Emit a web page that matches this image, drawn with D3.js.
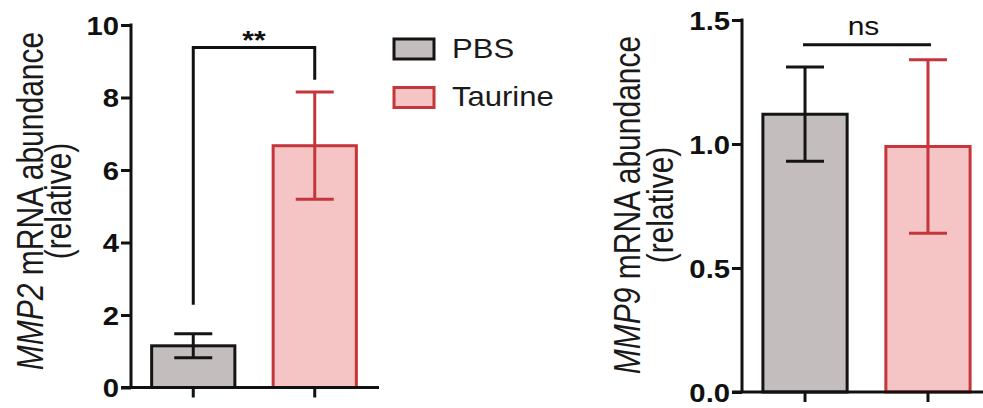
<!DOCTYPE html>
<html>
<head>
<meta charset="utf-8">
<script src="https://cdn.jsdelivr.net/npm/d3@7"></script>
<style>
  body { margin: 0; background: #fff; }
  svg { display: block; font-family: "Liberation Sans", Arial, sans-serif; }
</style>
</head>
<body>
<div class="chart"></div>
<script>
// groups and values (mean and SD)
const groups = ["PBS", "Taurine"];
const mmp2Mean = [1.15, 6.67];
const mmp2Err = [0.33, 1.48];
const mmp9Mean = [1.12, 0.99];
const mmp9Err = [0.19, 0.35];
const mmp2Ticks = [0, 2, 4, 6, 8, 10];
const mmp9Ticks = [0, 0.5, 1.0, 1.5];
const fills = ["#c4bdbd", "#f5c4c4"];
const strokes = ["#141414", "#c6353b"];

const W = 983, H = 408;
const sx = 1.2; // the figure is stretched a bit horizontally
const tickSx = 1.17;

const svg = d3.select(".chart").append("svg")
  .attr("width", W).attr("height", H);

function panel(opt) {
  const x = d3.scaleBand().domain(groups)
    .range(opt.xr).paddingInner(0.315).paddingOuter(0.17);
  const y = d3.scaleLinear().domain(opt.domain).range(opt.yr);
  const g = svg.append("g");

  // bars
  g.selectAll(".bar").data(groups).enter().append("rect")
    .attr("class", "bar")
    .attr("x", d => x(d))
    .attr("y", (d, i) => y(opt.mean[i]))
    .attr("width", x.bandwidth())
    .attr("height", (d, i) => y(0) - y(opt.mean[i]))
    .attr("fill", (d, i) => fills[i])
    .attr("stroke", (d, i) => strokes[i])
    .attr("stroke-width", 3);

  // error bars
  const cap = 19;
  groups.forEach((d, i) => {
    const cx = x(d) + x.bandwidth() / 2;
    const lo = y(opt.mean[i] - opt.err[i]), hi = y(opt.mean[i] + opt.err[i]);
    const eg = g.append("g").attr("stroke", strokes[i]).attr("stroke-width", 3);
    eg.append("line").attr("x1", cx).attr("x2", cx).attr("y1", lo).attr("y2", hi);
    eg.append("line").attr("x1", cx - cap).attr("x2", cx + cap).attr("y1", lo).attr("y2", lo);
    eg.append("line").attr("x1", cx - cap).attr("x2", cx + cap).attr("y1", hi).attr("y2", hi);
  });

  // y axis
  const ya = g.append("g").attr("transform", `translate(${opt.xr[0]},0)`)
    .call(d3.axisLeft(y).tickValues(opt.ticks).tickFormat(opt.fmt)
      .tickSize(10).tickSizeOuter(0));
  ya.select(".domain").attr("stroke", "#111").attr("stroke-width", 3)
    .attr("d", `M0,${opt.yr[1] - 1.5}V${opt.yr[0]}`);
  ya.selectAll(".tick line").attr("stroke", "#111").attr("stroke-width", 3);
  ya.selectAll(".tick text")
    .attr("x", -12 / tickSx).attr("dy", "0.36em")
    .attr("transform", `scale(${tickSx},1)`)
    .attr("font-size", 25).attr("font-weight", "bold").attr("fill", "#111")
    .attr("font-family", "Liberation Sans, Arial, sans-serif");

  // x axis
  const xa = g.append("g").attr("transform", `translate(0,${opt.yr[0]})`)
    .call(d3.axisBottom(x).tickSize(10).tickSizeOuter(0).tickFormat(""));
  xa.select(".domain").attr("stroke", "#111").attr("stroke-width", 3)
    .attr("d", `M${opt.xr[0] - 10},0H${opt.xEnd}`);
  xa.selectAll(".tick line").attr("stroke", "#111").attr("stroke-width", 3);

  // y label, two lines
  const l1 = svg.append("text")
    .attr("transform", `translate(${opt.labelX[0]},${opt.labelY}) scale(${sx},1) rotate(-90)`)
    .attr("text-anchor", "middle").attr("font-size", 30).attr("fill", "#1a1a1a");
  l1.append("tspan").attr("font-style", "italic").text(opt.gene);
  l1.append("tspan").text(" mRNA abundance");
  svg.append("text")
    .attr("transform", `translate(${opt.labelX[1]},${opt.labelY}) scale(${sx},1) rotate(-90)`)
    .attr("text-anchor", "middle").attr("font-size", 30).attr("fill", "#1a1a1a")
    .text("(relative)");

  return { x, y };
}

const left = panel({
  xr: [131, 377], xEnd: 379, yr: [387.5, 25], domain: [0, 10],
  mean: mmp2Mean, err: mmp2Err, ticks: mmp2Ticks, fmt: d3.format("d"),
  gene: "MMP2", labelX: [43, 71], labelY: 201
});

const right = panel({
  xr: [742, 991], xEnd: 983, yr: [392, 20], domain: [0, 1.5],
  mean: mmp9Mean, err: mmp9Err, ticks: mmp9Ticks, fmt: d3.format(".1f"),
  gene: "MMP9", labelX: [640, 673], labelY: 205
});

// significance bracket on MMP2
const c0 = left.x("PBS") + left.x.bandwidth() / 2;
const c1 = left.x("Taurine") + left.x.bandwidth() / 2;
svg.append("path")
  .attr("d", `M${c0},${left.y(2.28)}V${left.y(9.38)}H${c1}V${left.y(8.49)}`)
  .attr("fill", "none").attr("stroke", "#111").attr("stroke-width", 3);
svg.append("text")
  .attr("transform", `translate(${(c0 + c1) / 2},${left.y(9.38) + 2}) scale(${sx},1)`)
  .attr("text-anchor", "middle").attr("font-size", 25).attr("font-weight", "bold")
  .attr("fill", "#111").text("**");

// ns line on MMP9
const r0 = right.x("PBS") + right.x.bandwidth() / 2;
const r1 = right.x("Taurine") + right.x.bandwidth() / 2;
svg.append("line")
  .attr("x1", r0 - 2).attr("x2", r1 + 3)
  .attr("y1", right.y(1.4)).attr("y2", right.y(1.4))
  .attr("stroke", "#111").attr("stroke-width", 3);
svg.append("text")
  .attr("transform", `translate(${(r0 + r1) / 2 - 3},35) scale(${sx},1)`)
  .attr("text-anchor", "middle").attr("font-size", 25)
  .attr("fill", "#111").text("ns");

// legend
const legend = svg.append("g");
groups.forEach((d, i) => {
  legend.append("rect")
    .attr("x", 394).attr("y", 39 + i * 48.5)
    .attr("width", 40).attr("height", 20)
    .attr("fill", fills[i]).attr("stroke", strokes[i]).attr("stroke-width", 3);
  legend.append("text")
    .attr("transform", `translate(452,${57.5 + i * 48}) scale(1.15,1)`)
    .attr("font-size", 27).attr("fill", "#1a1a1a").text(d);
});
</script>
</body>
</html>
